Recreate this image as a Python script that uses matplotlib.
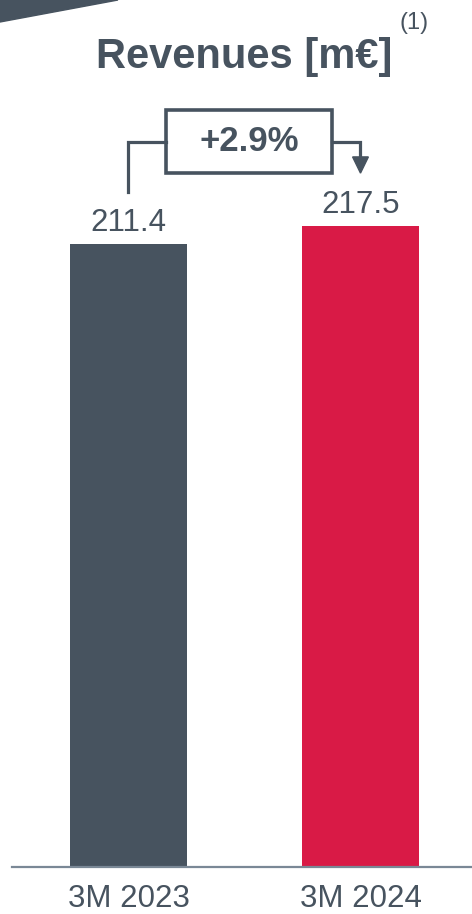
import matplotlib.pyplot as plt
from matplotlib.patches import Polygon, Rectangle

plt.rcParams['font.family'] = ['Liberation Sans', 'DejaVu Sans']

periods = ['3M 2023', '3M 2024']
revenues = [211.4, 217.5]
bar_colors = ['#47535F', '#D91A46']
growth_label = '+2.9%'

dark = '#47535F'

fig = plt.figure(figsize=(4.72, 9.14), dpi=100)
ax = fig.add_axes([12 / 472, 47 / 914, 460 / 472, 825 / 914])

x = list(range(len(periods)))
ax.bar(x, revenues, width=0.504, color=bar_colors, zorder=2)
ax.set_xlim(-0.502, 1.4806)
ax.set_ylim(0, 280)

for xi, v in zip(x, revenues):
    ax.text(xi, v + 4.3, f'{v:.1f}', ha='center', va='baseline',
            fontsize=22.5, color=dark)

# growth bracket between the two bars
y_link = 246.0
box_lo, box_hi = 235.5, 257.0
box_l, box_r = 0.162, 0.877
ax.plot([x[0], x[0], box_l], [revenues[0] + 17.6, y_link, y_link],
        color=dark, lw=2.3, clip_on=False, solid_joinstyle='miter')
ax.plot([box_r, x[1], x[1]], [y_link, y_link, revenues[1] + 23.0],
        color=dark, lw=2.3, clip_on=False, solid_joinstyle='miter')
ax.add_patch(Polygon([[x[1] - 0.034, revenues[1] + 23.5],
                      [x[1] + 0.034, revenues[1] + 23.5],
                      [x[1], revenues[1] + 18.0]],
                     closed=True, color=dark, clip_on=False))
ax.add_patch(Rectangle((box_l, box_lo), box_r - box_l, box_hi - box_lo,
                       fill=False, ec=dark, lw=2.6, clip_on=False,
                       joinstyle='miter'))
ax.text((box_l + box_r) / 2, (box_lo + box_hi) / 2, growth_label,
        ha='center', va='center', fontsize=25, fontweight='bold', color=dark)

for s in ['top', 'right', 'left']:
    ax.spines[s].set_visible(False)
ax.spines['bottom'].set_color('#7A8896')
ax.spines['bottom'].set_linewidth(1.6)
ax.set_yticks([])
ax.set_xticks(x)
ax.set_xticklabels(periods, fontsize=22.5, color=dark)
ax.tick_params(axis='x', length=0, pad=12)

fig.text(244 / 472, 1 - 68 / 914, 'Revenues [m€]', ha='center', va='baseline',
         fontsize=30, fontweight='bold', color=dark)
fig.text(414 / 472, 1 - 23 / 914, '(1)', ha='center', va='center',
         fontsize=17, color=dark)

# corner banner
fig.patches.append(Polygon([[0, 1], [118 / 472, 1], [0, 1 - 22 / 914]],
                           closed=True, color=dark,
                           transform=fig.transFigure, figure=fig))

fig.savefig('out.png', dpi=100)
